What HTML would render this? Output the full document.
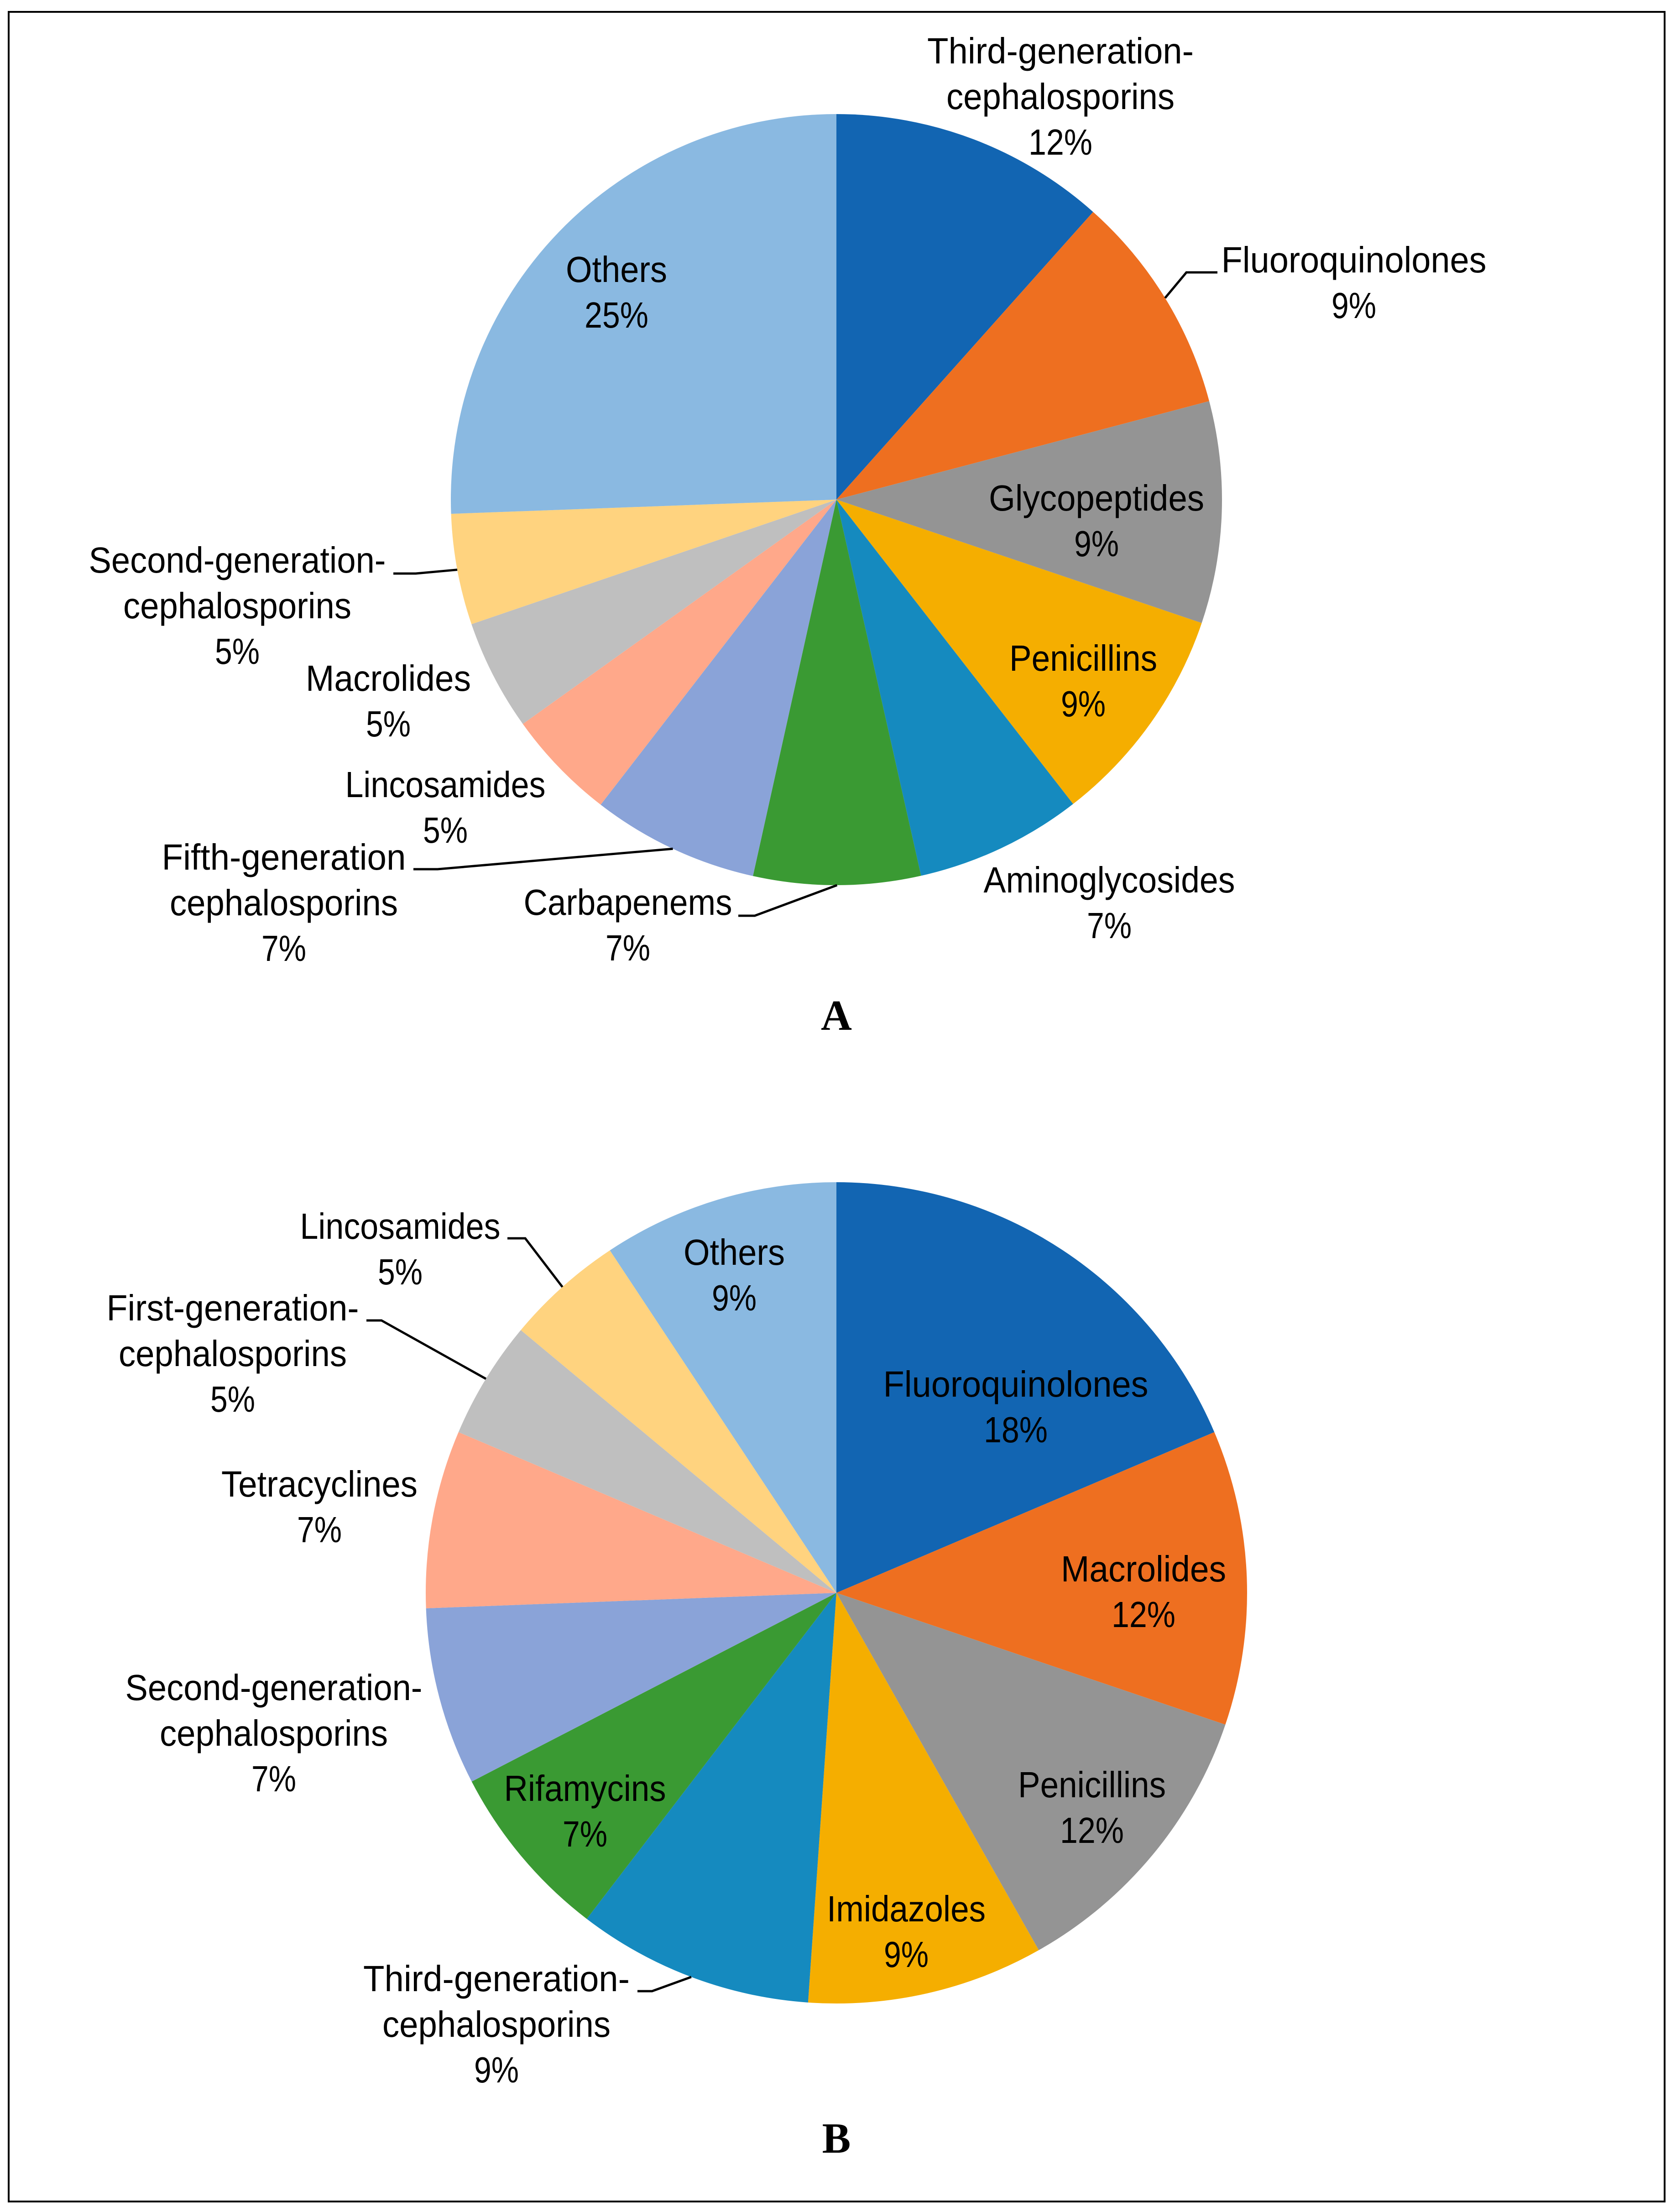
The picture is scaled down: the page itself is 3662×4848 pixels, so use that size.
<!DOCTYPE html>
<html lang="en">
<head>
<meta charset="utf-8">
<title>Antibiotic class pie charts</title>
<style>
html,body{margin:0;padding:0;background:#fff;}
svg{display:block;}
text{font-family:"Liberation Sans",sans-serif;fill:#000;}
.panel-letter{font-family:"Liberation Serif",serif;font-weight:bold;font-size:94px;text-anchor:middle;}
</style>
</head>
<body>
<svg id="figure" xmlns="http://www.w3.org/2000/svg" width="3662" height="4848" viewBox="0 0 3662 4848">
  <rect x="0" y="0" width="3662" height="4848" fill="#ffffff"/>
  <rect x="19" y="26" width="3629" height="4799" fill="none" stroke="#000" stroke-width="4"/>
  <g id="chart-a"></g>
  <g id="chart-b"></g>
  <text class="panel-letter" x="1833" y="2257">A</text>
  <text class="panel-letter" x="1833" y="4718">B</text>
</svg>
<script>
// ---- Chart data ----
const categoriesA = ["Third-generation-|cephalosporins","Fluoroquinolones","Glycopeptides","Penicillins","Aminoglycosides","Carbapenems","Fifth-generation|cephalosporins","Lincosamides","Macrolides","Second-generation-|cephalosporins","Others"];
const valuesA = [11.6,9.3,9.3,9.3,7,7,7,4.65,4.65,4.65,25.6];
const printedA = ["12%","9%","9%","9%","7%","7%","7%","5%","5%","5%","25%"];

const categoriesB = ["Fluoroquinolones","Macrolides","Penicillins","Imidazoles","Third-generation-|cephalosporins","Rifamycins","Second-generation-|cephalosporins","Tetracyclines","First-generation-|cephalosporins","Lincosamides","Others"];
const valuesB = [18.6,11.6,11.6,9.3,9.3,7,7,7,4.65,4.65,9.3];
const printedB = ["18%","12%","12%","9%","9%","7%","7%","7%","5%","5%","9%"];

// ---- Styling and layout ----
const sliceColors = ["#1265B2","#EE6F20","#949494","#F5AE00","#158ABF","#3A9A33","#8AA3D8","#FFA88A","#BFBFBF","#FFD37F","#8AB9E1"];
const lineHeight = 100;
const fontSize = 80;
const lineWidths = {"Third-generation-":584,"cephalosporins":500,"Fluoroquinolones":581,"Glycopeptides":472,"Penicillins":324,"Aminoglycosides":551,"Carbapenems":457,"Fifth-generation":535,"Lincosamides":439,"Macrolides":362,"Second-generation-":651,"Others":222,"Imidazoles":348,"Rifamycins":355,"Tetracyclines":430,"First-generation-":553};
const placeA = [[2324,139],[2967,597],[2403,1119],[2374,1470],[2431,1956],[1376,2005],[622,1906],[976,1747],[851,1514],[520,1255],[1351,618]];
const placeB = [[2226,3061],[2506,3466],[2393,3939],[1986,4211],[1088,4364],[1282,3947],[600,3726],[700,3280],[510,2894],[877,2715],[1609,2772]];
const leadersA = {1:[2668,2600,597],5:[1618,1654,2007],6:[906,959,1905],9:[862,911,1257]};
const leadersB = {4:[1397,1429,4364],8:[803,836,2894],9:[1112,1151,2714]};

const SVG_NS = "http://www.w3.org/2000/svg";

function slug(text) {
  return text.replace(/\|/g, "-").replace(/-+/g, "-").replace(/-$/, "").toLowerCase();
}

function pointAt(cx, cy, r, fraction) {
  const a = fraction * 2 * Math.PI;
  return [cx + r * Math.sin(a), cy - r * Math.cos(a)];
}

function drawPie(host, categories, values, printed, places, leaders, cx, cy, r) {
  const total = values.reduce(function (s, v) { return s + v; }, 0);
  let cumulative = 0;
  const mids = [];
  values.forEach(function (v, i) {
    const start = cumulative / total;
    cumulative += v;
    const end = cumulative / total;
    mids.push((start + end) / 2);
    const p0 = pointAt(cx, cy, r, start);
    const p1 = pointAt(cx, cy, r, end);
    const large = end - start > 0.5 ? 1 : 0;
    const path = document.createElementNS(SVG_NS, "path");
    path.setAttribute("d", "M" + cx + " " + cy + "L" + p0[0] + " " + p0[1] + "A" + r + " " + r + " 0 " + large + " 1 " + p1[0] + " " + p1[1] + "Z");
    path.setAttribute("fill", sliceColors[i]);
    
    
    host.appendChild(path);
  });

  Object.keys(leaders).forEach(function (key) {
    const i = Number(key);
    const seg = leaders[key];
    const edge = pointAt(cx, cy, r, mids[i]);
    const line = document.createElementNS(SVG_NS, "polyline");
    line.setAttribute("points", seg[0] + "," + seg[2] + " " + seg[1] + "," + seg[2] + " " + edge[0] + "," + edge[1]);
    line.setAttribute("fill", "none");
    line.setAttribute("stroke", "#000");
    line.setAttribute("stroke-width", "5");
    
    
    host.appendChild(line);
  });

  categories.forEach(function (name, i) {
    const lines = name.split("|").concat([printed[i]]);
    const group = document.createElementNS(SVG_NS, "g");
    
    
    lines.forEach(function (t, j) {
      const width = lineWidths[t] || (t.length > 2 ? 140 : 98);
      const el = document.createElementNS(SVG_NS, "text");
      el.setAttribute("x", places[i][0] - width / 2);
      el.setAttribute("y", places[i][1] + j * lineHeight);
      el.setAttribute("font-size", fontSize);
      el.setAttribute("textLength", width);
      el.setAttribute("lengthAdjust", "spacingAndGlyphs");
      
      
      el.textContent = t;
      group.appendChild(el);
    });
    host.appendChild(group);
  });
}

drawPie(document.getElementById("chart-a"), categoriesA, valuesA, printedA, placeA, leadersA, 1833, 1095, 845);
drawPie(document.getElementById("chart-b"), categoriesB, valuesB, printedB, placeB, leadersB, 1833, 3491, 900);
</script>
</body>
</html>
